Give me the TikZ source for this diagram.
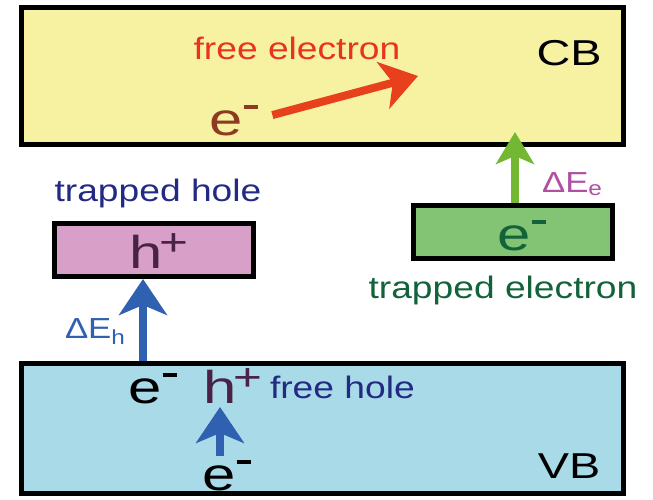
\documentclass[tikz,border=0pt]{standalone}
\usepackage{fontspec}
\setmainfont{Liberation Sans}[FakeStretch=1.2]
\newfontfamily\bigfont{Liberation Sans}[FakeStretch=1.3]
\usetikzlibrary{arrows.meta}
\usetikzlibrary{positioning}

\definecolor{cbfill}{HTML}{F6F2A2}
\definecolor{vbfill}{HTML}{A8DAE8}
\definecolor{holefill}{HTML}{D8A0C8}
\definecolor{elecfill}{HTML}{82C474}
\definecolor{redarr}{HTML}{E8401C}
\definecolor{greenarr}{HTML}{72B832}
\definecolor{bluearr}{HTML}{3060B0}
\definecolor{freeel}{HTML}{E83222}
\definecolor{brownel}{HTML}{8E3A22}
\definecolor{navy}{HTML}{222A84}
\definecolor{darkgreen}{HTML}{12623A}
\definecolor{plum}{HTML}{4A2248}
\definecolor{magenta}{HTML}{B050A2}

\newcommand{\elec}{e\kern0.03em\raisebox{0.56em}{\rule{0.32em}{0.1em}}}
\newcommand{\hole}{h\kern-0.06em\raisebox{0.28em}{\fontsize{38}{40}\selectfont +}}

\begin{document}
\begin{tikzpicture}[
    x=1pt, y=-1pt,
    every node/.style={inner sep=0pt, font=\fontsize{31}{34}\selectfont},
    band/.style={draw, line width=5pt, rectangle, minimum width=602pt},
    trap/.style={draw, line width=5pt, rectangle, minimum width=199pt, minimum height=53pt},
    big/.style={font=\bigfont\fontsize{46}{50}\selectfont, anchor=base west},
    bandname/.style={font=\bigfont\fontsize{36}{40}\selectfont, anchor=base},
    gap/.style={font=\fontsize{29}{32}\selectfont, anchor=base west},
    every path/.style={line width=8pt},
  ]
  \tikzset{>={Stealth[length=36pt, width=48pt, inset=10pt]}}

  \useasboundingbox (0,0) rectangle (653,499);

  % Bands and traps
  \node[band, fill=cbfill, minimum height=137pt] (cb) at (322,76) {};
  \node[band, fill=vbfill, minimum height=130pt] (vb) at (322,428.5) {};
  \node[trap, fill=holefill] (htrap) at (154,250) {};
  \node[trap, fill=elecfill] (etrap) at (513,231.5) {};

  % Labels
  \node[bandname] (cbname) at (569,65) {CB};
  \node[bandname] (vbname) at (569,478) {VB};
  \node[anchor=base, text=freeel] (fetext) at (297,59) {free electron};
  \node[big, text=brownel] (ecb) at (205,135) {\elec};
  \node[big, text=plum] (htr) at (125,268) {\hole};
  \node[anchor=base, text=navy] (thtext) at (158,201) {trapped hole};
  \node[big, text=darkgreen] (etr) at (493,250) {\elec};
  \node[anchor=base, text=darkgreen] (tetext) at (503,298) {trapped electron};
  \node[gap, text=magenta] (dee) at (538,192) {ΔE\textsubscript{e}};
  \node[gap, text=bluearr] (deh) at (61,338) {ΔE\textsubscript{h}};
  \node[big] (evb) at (124,403) {\elec};
  \node[big, text=plum] (hvb) at (199,403) {\hole};
  \node[anchor=base west, text=navy] (fhtext) at (266,398) {free hole};
  \node[big] (elow) at (198,490) {\elec};

  % Free ends
  \coordinate (fetip) at (418,76);
  \coordinate (cbin) at (515,132);
  \coordinate (hbase) at (143,361);

  % Arrows
  \draw[->, color=redarr] (ecb.east) ++(10,-5) -- (fetip);
  \draw[->, color=greenarr, >={Stealth[length=32pt, width=38pt, inset=8pt]}]
    (etrap.north -| cbin) -- (cbin);
  \draw[->, color=bluearr] (hbase) -- (htrap.south -| hbase);
  \draw[->, color=bluearr] (elow.north -| 220,0) -- (hvb.south -| 220,0);

\end{tikzpicture}
\end{document}
